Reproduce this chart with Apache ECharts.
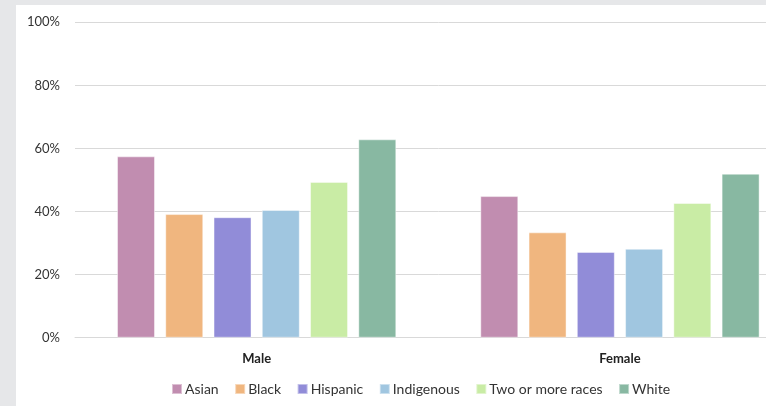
<!DOCTYPE html>
<html>
<head>
<meta charset="utf-8">
<script src="https://cdn.jsdelivr.net/npm/echarts@6/dist/echarts.min.js"></script>
<style>
  html, body { margin: 0; padding: 0; width: 766px; height: 406px; background: #e6e7e9; overflow: hidden; }
  #chart { position: absolute; left: 16px; top: 5px; width: 790px; height: 401px; background: #ffffff; }
</style>
</head>
<body>
<div id="chart"></div>
<script>
const categories = ["Male", "Female"];
const yTicks = [0, 20, 40, 60, 80, 100];

const asian = [57.5, 44.9];
const black = [39.2, 33.4];
const hispanic = [38.2, 27.2];
const indigenous = [40.5, 28.2];
const twoOrMore = [49.4, 42.7];
const white = [62.9, 52.0];

// colores por grupo
const groups = [
  { name: "Asian", data: asian, color: "#c18db0" },
  { name: "Black", data: black, color: "#f0b67f" },
  { name: "Hispanic", data: hispanic, color: "#918cd8" },
  { name: "Indigenous", data: indigenous, color: "#a0c6e0" },
  { name: "Two or more races", data: twoOrMore, color: "#c9eca5" },
  { name: "White", data: white, color: "#88b8a2" },
];

const chart = echarts.init(document.getElementById("chart"));

const series = groups.map((g) => ({
  name: g.name,
  type: "bar",
  data: g.data,
  barWidth: 38,
  barGap: "27%",
  itemStyle: { color: g.color, borderColor: "rgba(255,255,255,0.45)", borderWidth: 1 },
}));

chart.setOption({
  animation: false,
  textStyle: { fontFamily: "Lato" },
  // el grafico original esta recortado a la derecha
  grid: { left: 59, right: 4.4, top: 17.3, bottom: 68.3 },
  legend: {
    left: 150,
    top: 372,
    itemWidth: 10,
    itemHeight: 10,
    itemGap: 15.5,
    icon: "rect",
    textStyle: { fontSize: 14, color: "#333", fontFamily: "Lato", padding: [0, 0, 0, -2] },
    data: groups.map((g) => g.name),
  },
  xAxis: {
    type: "category",
    data: categories,
    axisTick: { show: false },
    axisLine: { lineStyle: { color: "#d9d9d9", width: 1 } },
    axisLabel: { fontSize: 13, fontWeight: "bold", color: "#222", margin: 15, fontFamily: "Lato" },
  },
  yAxis: {
    type: "value",
    min: yTicks[0],
    max: yTicks[yTicks.length - 1],
    interval: 20,
    axisLine: { show: false },
    axisTick: { show: false },
    splitLine: { lineStyle: { color: "#d9d9d9", width: 1 } },
    axisLabel: { fontSize: 13, color: "#333", margin: 15, fontFamily: "Lato", formatter: (v) => v + "%" },
  },
  series,
});
</script>
</body>
</html>
